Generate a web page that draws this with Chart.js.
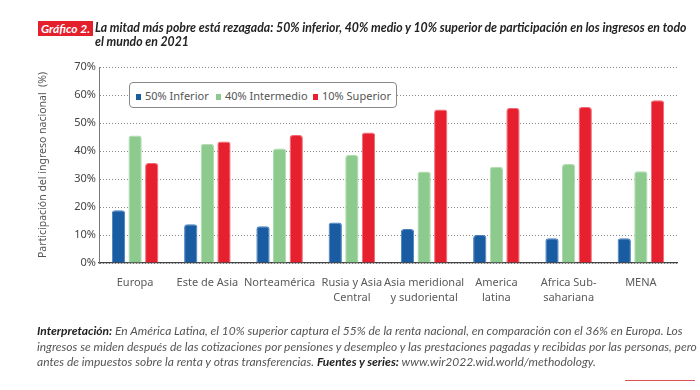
<!DOCTYPE html>
<html><head><meta charset="utf-8">
<script src="https://cdn.jsdelivr.net/npm/chart.js@4"></script>
<style>
html,body{margin:0;padding:0;background:#fff;}
#wrap{position:relative;width:700px;height:390px;overflow:hidden;font-family:Lato,"Noto Sans",sans-serif;}
canvas{position:absolute;left:0;top:0;}
#badge{position:absolute;left:38px;top:21px;height:15px;padding:0 3px;background:#e3202c;color:#fff;font:italic bold 12px Lato;line-height:15px;}
#title{position:absolute;left:95px;top:21px;width:605px;font:italic bold 12.25px Lato;line-height:14px;color:#222;white-space:nowrap;}
#legend{position:absolute;left:129px;top:82px;width:266px;height:24px;border:1px solid #888;border-radius:4px;background:#fff;}
.li{position:absolute;top:6px;font:11px "Noto Sans";color:#555;line-height:13px;white-space:nowrap;}
.sw{display:inline-block;width:5px;height:6px;margin-right:4px;vertical-align:0px;}
#foot{position:absolute;left:37px;top:323px;width:670px;font:italic 12px Lato;line-height:15.5px;color:#555;white-space:nowrap;}
#foot b{font-style:italic;font-weight:bold;color:#222;}
#rl{position:absolute;left:625px;top:380px;width:70px;height:1px;background:#d9535b;}
</style></head>
<body><div id="wrap">
<canvas id="c" width="700" height="390"></canvas>
<div id="badge">Gráfico 2.</div>
<div id="title">La mitad más pobre está rezagada: 50% inferior, 40% medio y 10% superior de participación en los ingresos en todo<br>el mundo en 2021</div>
<div id="legend">
<span class="li" style="left:6px"><span class="sw" style="background:#1a5ca2"></span>50% Inferior</span>
<span class="li" style="left:86px"><span class="sw" style="background:#8dca8d"></span>40% Intermedio</span>
<span class="li" style="left:183px"><span class="sw" style="background:#e6202e"></span>10% Superior</span>
</div>
<div id="foot"><b>Interpretación:</b> En América Latina, el 10% superior captura el 55% de la renta nacional, en comparación con el 36% en Europa. Los<br>ingresos se miden después de las cotizaciones por pensiones y desempleo y las prestaciones pagadas y recibidas por las personas, pero<br>antes de impuestos sobre la renta y otras transferencias. <b>Fuentes y series:</b> www.wir2022.wid.world/methodology.</div>
<div id="rl"></div>
</div>
<script>
const categories = [["Europa"],["Este de Asia"],["Norteamérica"],["Rusia y Asia","Central"],["Asia meridional","y sudoriental"],["America","latina"],["Africa Sub-","sahariana"],["MENA"]];
const seriesNames = ["50% Inferior","40% Intermedio","10% Superior"];
const bottom50 = [18.8,13.8,13.1,14.5,12.1,10.0,8.8,8.8];
const middle40 = [45.5,42.6,40.9,38.6,32.7,34.4,35.4,32.8];
const top10 = [35.7,43.4,45.7,46.6,54.8,55.4,55.7,58.1];
const yMax = 70, yStep = 10;

const colors = ["#1a5ca2","#8dca8d","#e6202e"];
const borders = ["#4a80bb","#b0dcb0","#f06a74"];
const mk = (i, data) => ({label: seriesNames[i], data, backgroundColor: colors[i], borderColor: borders[i], borderWidth: 1, borderSkipped: 'bottom', borderRadius: {topLeft: 3, topRight: 3}, categoryPercentage: 0.69, barPercentage: 0.8});

new Chart(document.getElementById('c'), {
  type: 'bar',
  data: {labels: categories, datasets: [mk(0,bottom50), mk(1,middle40), mk(2,top10)]},
  options: {
    responsive: false, animation: false, devicePixelRatio: 1,
    layout: {padding: {left: 37, right: 23, top: 67, bottom: 77}},
    plugins: {legend: {display: false}, tooltip: {enabled: false}},
    scales: {
      x: {
        afterFit: s => { s.height = 50; },
        grid: {display: false},
        border: {display: true, color: '#444', width: 1.2},
        ticks: {color: '#5a5a5a', font: {family: 'Noto Sans', size: 11, lineHeight: 1.3}, padding: 5, maxRotation: 0, autoSkip: false}
      },
      y: {
        min: 0, max: yMax,
        afterFit: s => { s.width = 62; },
        grid: {color: '#888', drawTicks: false, lineWidth: 1},
        border: {display: true, color: '#777', width: 1, dash: [1,2]},
        ticks: {stepSize: yStep, color: '#444', padding: 3, font: {family: 'Noto Sans', size: 11}, callback: v => v + '%'},
        title: {display: true, text: 'Participación del ingreso nacional  (%)', color: '#555', font: {family: 'Noto Sans', size: 10.5}, padding: 0}
      }
    }
  }
});
</script>
</body></html>
